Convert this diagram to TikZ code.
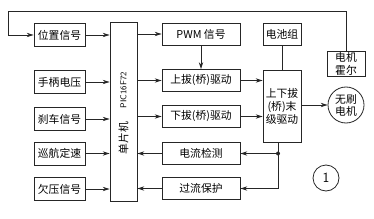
\documentclass[tikz,border=0pt]{standalone}
\usepackage{fontspec}
\usepackage{tikz}
\usetikzlibrary{arrows.meta,calc,positioning}
\newfontfamily\cjk{Noto Sans CJK SC}
\definecolor{tinta}{rgb}{0.15,0.15,0.15}
\tikzset{
  entrada/.style={
    draw=tinta,
    thick,
    align=center,
    minimum width=51pt,
    minimum height=23pt,
    inner sep=1pt,
    font=\cjk\fontsize{10.8}{12}\selectfont
  },
  bloque/.style={
    draw=tinta,
    thick,
    align=center,
    minimum width=78pt,
    minimum height=22pt,
    inner sep=1pt,
    font=\cjk\fontsize{10.8}{12}\selectfont
  },
  etapa/.style={
    draw=tinta,
    thick,
    align=center,
    minimum width=38pt,
    inner sep=1pt,
    font=\cjk\fontsize{10.8}{13}\selectfont
  },
  arrow/.style={
    -{Stealth[length=2.4mm,width=1.5mm]},
    thick,
    tinta
  },
  linea/.style={
    thick,
    tinta
  }
}

\begin{document}
\begin{tikzpicture}[x=1pt,y=-1pt]
\useasboundingbox (0,0) rectangle (374,219);
% entradas
\node[entrada] (pos) at (59.5,35) {位置信号};
\node[entrada] (mango) at (59.5,82) {手柄电压};
\node[entrada] (freno) at (59.5,119) {刹车信号};
\node[entrada] (crucero) at (59.5,153.5) {巡航定速};
\node[entrada] (baja) at (59.5,189) {欠压信号};
% microcontrolador
\node[draw=tinta,thick,minimum width=27pt,minimum height=179pt,inner sep=0pt] (mcu) at (123.5,111.5) {};
\node[rotate=90,font=\sffamily\fontsize{8.5}{9}\selectfont] (pic) at (123.5,90) {PIC16F72};
\node[rotate=90,font=\cjk\fontsize{10.8}{11}\selectfont] (spj) at (123.5,138) {单片机};
% bloques
\node[bloque] (pwm) at (201,34) {PWM 信号};
\node[bloque] (up) at (201,80.5) {上拔(桥)驱动};
\node[bloque] (down) at (201,116.5) {下拔(桥)驱动};
\node[bloque] (cur) at (201,153.5) {电流检测};
\node[bloque] (ovp) at (201,188.5) {过流保护};
% etapa final
\node[etapa,minimum height=22pt] (bat) at (282,34) {电池组};
\node[etapa,minimum height=72pt] (mo) at (282,106) {上下拔\\(桥)末\\级驱动};
\node[etapa,minimum height=24pt] (hall) at (346,64) {电机\\霍尔};
\node[draw=tinta,thick,circle,minimum size=36pt,inner sep=0pt,align=center,
  font=\cjk\fontsize{10.8}{12}\selectfont] (motor) at (346,105) {无刷\\电机};
\node[draw=tinta,thick,circle,minimum size=26pt,inner sep=0pt,
  font=\sffamily\fontsize{14}{14}\selectfont] (uno) at (326,178) {1};
% conexiones
\foreach \n in {pos,mango,freno,crucero,baja}
  \draw[arrow] (\n.east) -- (\n.east -| mcu.west);
\foreach \n in {pwm,up,down}
  \draw[arrow] (\n.west -| mcu.east) -- (\n.west);
\foreach \n in {cur,ovp}
  \draw[arrow] (\n.west) -- (\n.west -| mcu.east);
\draw[arrow] (pwm) -- (up);
\draw[arrow] (up.east) -- (up.east -| mo.west);
\draw[arrow] (down.east) -- (down.east -| mo.west);
\draw[linea] (bat) -- (mo);
\draw[arrow] (mo.east |- motor.west) -- (motor.west);
\coordinate (sal) at ($(mo.south)+(-4,0)$);
\draw[arrow] (sal) |- (cur.east);
\draw[arrow] (sal) |- (ovp.east);
\fill[tinta] (sal |- cur.east) circle (2);
\coordinate (fb) at (8,11);
\draw[arrow] (hall.north) |- (fb) |- (pos.west);
\end{tikzpicture}
\end{document}
